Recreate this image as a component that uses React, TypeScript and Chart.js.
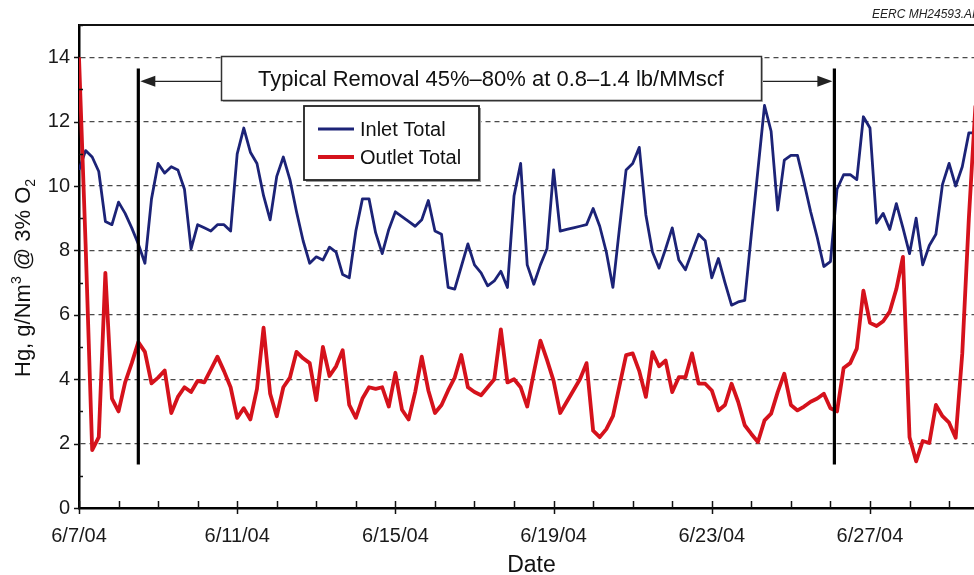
import React, { useEffect, useRef } from 'react';
import { Chart, registerables } from 'chart.js';

Chart.register(...registerables);

// ---- data ----
const slotHours = 4; // one reading every 4 hours, starting 6/7/04 00:00
const dateLabels = ['6/7/04', '6/11/04', '6/15/04', '6/19/04', '6/23/04', '6/27/04'];
const labelEveryDays = 4;
const xMaxDays = 22.63;
const yMax = 15;

const inletTotal = [
  10.5, 11.1, 10.9, 10.45, 8.9, 8.8, 9.5, 9.15, 8.7, 8.2, 7.6, 9.6, 10.7, 10.4, 10.6, 10.5, 9.9, 8.05, 8.8, 8.7, 8.6, 8.8, 8.8, 8.6,
  11.0, 11.8, 11.05, 10.7, 9.7, 8.95, 10.3, 10.9, 10.2, 9.2, 8.3, 7.6, 7.8, 7.7, 8.1, 7.95, 7.25, 7.15, 8.6, 9.6, 9.6, 8.55, 7.9, 8.65,
  9.2, 9.05, 8.9, 8.75, 8.95, 9.55, 8.6, 8.5, 6.85, 6.8, 7.5, 8.2, 7.55, 7.3, 6.9, 7.05, 7.35, 6.85, 9.7, 10.7, 7.55, 6.95, 7.55, 8.05,
  10.5, 8.6, 8.65, 8.7, 8.75, 8.8, 9.3, 8.75, 7.95, 6.85, 8.7, 10.5, 10.7, 11.2, 9.1, 7.95, 7.45, 8.05, 8.7, 7.7, 7.4, 7.95, 8.5, 8.3,
  7.15, 7.75, 7.0, 6.3, 6.4, 6.45, 8.5, 10.5, 12.5, 11.7, 9.25, 10.8, 10.95, 10.95, 10.1, 9.2, 8.4, 7.5, 7.65, 9.9, 10.35, 10.35, 10.2, 12.15,
  11.8, 8.85, 9.15, 8.65, 9.45, 8.7, 7.9, 9.0, 7.55, 8.15, 8.5, 10.05, 10.7, 10.0, 10.6, 11.65, 11.65,
];

const outletTotal = [
  14.0, 8.2, 1.8, 2.2, 7.3, 3.4, 3.0, 3.9, 4.5, 5.15, 4.85, 3.87, 4.05, 4.27, 2.95, 3.45, 3.75, 3.6, 3.95, 3.9, 4.3, 4.7, 4.25, 3.75,
  2.8, 3.1, 2.75, 3.7, 5.6, 3.55, 2.85, 3.75, 4.05, 4.85, 4.65, 4.5, 3.35, 5.0, 4.1, 4.4, 4.9, 3.2, 2.8, 3.4, 3.75, 3.7, 3.75, 3.15,
  4.2, 3.05, 2.75, 3.6, 4.7, 3.65, 2.95, 3.2, 3.65, 4.05, 4.75, 3.75, 3.6, 3.5, 3.75, 4.0, 5.55, 3.9, 4.0, 3.75, 3.15, 4.2, 5.2, 4.6,
  3.95, 2.95, 3.3, 3.65, 4.0, 4.5, 2.4, 2.2, 2.45, 2.85, 3.8, 4.75, 4.8, 4.25, 3.45, 4.84, 4.4, 4.58, 3.6, 4.06, 4.06, 4.8, 3.86, 3.86,
  3.65, 3.03, 3.2, 3.86, 3.3, 2.57, 2.3, 2.05, 2.72, 2.93, 3.6, 4.17, 3.2, 3.03, 3.15, 3.3, 3.4, 3.55, 3.1, 3.0, 4.35, 4.5, 4.95, 6.75,
  5.75, 5.65, 5.8, 6.1, 6.8, 7.8, 2.2, 1.45, 2.08, 2.02, 3.2, 2.85, 2.65, 2.18, 4.8, 9.0, 12.5,
];

const seriesNames = ['Inlet Total', 'Outlet Total'];
const removalStartDay = 1.5;
const removalEndDay = 19.1;
const markerTopValue = 13.65;
const markerBottomValue = 1.35;
const arrowValue = 13.25;
const annotationText = 'Typical Removal 45%\u201380% at 0.8\u20131.4 lb/MMscf';
const drawingId = 'EERC MH24593.AI';

const BLUE = '#1c2377';
const RED = '#d5121c';
const FONT = '"Liberation Sans", Arial, Helvetica, sans-serif';

const toPoints = (vals: number[]) => vals.map((v, i) => ({ x: (i * slotHours) / 24, y: v }));

const decorPlugin = {
  id: 'decor',
  beforeDraw(chart: any) {
    const ctx = chart.ctx;
    ctx.save();
    ctx.fillStyle = '#ffffff';
    ctx.fillRect(0, 0, chart.width, chart.height);
    ctx.restore();
  },
  afterDatasetsDraw(chart: any) {
    const ctx: CanvasRenderingContext2D = chart.ctx;
    const xs = chart.scales.x;
    const ys = chart.scales.y;
    const a = chart.chartArea;
    ctx.save();

    // top border
    ctx.strokeStyle = '#111';
    ctx.lineWidth = 2;
    ctx.beginPath();
    ctx.moveTo(a.left, a.top);
    ctx.lineTo(a.right, a.top);
    ctx.stroke();

    // x ticks
    ctx.lineWidth = 1.5;
    for (let d = 0; d <= Math.floor(xMaxDays); d++) {
      const px = Math.round(xs.getPixelForValue(d)) + 0.5;
      const major = d % labelEveryDays === 0;
      ctx.beginPath();
      ctx.moveTo(px, a.bottom - 7);
      ctx.lineTo(px, a.bottom + (major ? 6 : 0));
      ctx.stroke();
    }
    // y ticks
    for (let v = 0; v <= yMax; v++) {
      const py = Math.round(ys.getPixelForValue(v)) + 0.5;
      const major = v % 2 === 0;
      ctx.beginPath();
      ctx.moveTo(a.left - (major ? 5 : 0), py);
      ctx.lineTo(a.left + (major ? 0 : 4), py);
      ctx.stroke();
    }

    // vertical markers
    const yTop = ys.getPixelForValue(markerTopValue);
    const yBot = ys.getPixelForValue(markerBottomValue);
    ctx.strokeStyle = '#000';
    ctx.lineWidth = 3.2;
    [removalStartDay, removalEndDay].forEach((d) => {
      const px = xs.getPixelForValue(d);
      ctx.beginPath();
      ctx.moveTo(px, yTop);
      ctx.lineTo(px, yBot);
      ctx.stroke();
    });

    // annotation box
    const bx = 221, by = 56, bw = 540, bh = 44;
    const ay = ys.getPixelForValue(arrowValue);
    const xL = xs.getPixelForValue(removalStartDay) + 2;
    const xR = xs.getPixelForValue(removalEndDay) - 2;
    ctx.lineWidth = 1.4;
    ctx.strokeStyle = '#222';
    ctx.fillStyle = '#222';
    ctx.beginPath();
    ctx.moveTo(bx, ay);
    ctx.lineTo(xL + 12, ay);
    ctx.moveTo(bx + bw, ay);
    ctx.lineTo(xR - 12, ay);
    ctx.stroke();
    ctx.beginPath();
    ctx.moveTo(xL, ay);
    ctx.lineTo(xL + 15, ay - 5.5);
    ctx.lineTo(xL + 15, ay + 5.5);
    ctx.closePath();
    ctx.fill();
    ctx.beginPath();
    ctx.moveTo(xR, ay);
    ctx.lineTo(xR - 15, ay - 5.5);
    ctx.lineTo(xR - 15, ay + 5.5);
    ctx.closePath();
    ctx.fill();

    ctx.fillStyle = '#bbb';
    ctx.fillRect(bx + 2, by + 2, bw, bh);
    ctx.fillStyle = '#fff';
    ctx.fillRect(bx, by, bw, bh);
    ctx.strokeStyle = '#333';
    ctx.lineWidth = 1.5;
    ctx.strokeRect(bx + 0.5, by + 0.5, bw, bh);
    ctx.fillStyle = '#111';
    ctx.font = `22px ${FONT}`;
    ctx.textAlign = 'center';
    ctx.textBaseline = 'alphabetic';
    ctx.fillText(annotationText, bx + bw / 2, by + 30);

    // legend
    const lx = 304, ly = 106, lw = 175, lh = 74;
    ctx.fillStyle = '#999';
    ctx.fillRect(lx + 2, ly + 2, lw, lh);
    ctx.fillStyle = '#fff';
    ctx.fillRect(lx, ly, lw, lh);
    ctx.strokeStyle = '#222';
    ctx.lineWidth = 1.8;
    ctx.strokeRect(lx, ly, lw, lh);
    const items = [
      { name: seriesNames[0], color: BLUE, w: 3, y: 129 },
      { name: seriesNames[1], color: RED, w: 4, y: 157 },
    ];
    ctx.font = `20px ${FONT}`;
    ctx.textAlign = 'left';
    items.forEach((it) => {
      ctx.strokeStyle = it.color;
      ctx.lineWidth = it.w;
      ctx.beginPath();
      ctx.moveTo(318, it.y);
      ctx.lineTo(354, it.y);
      ctx.stroke();
      ctx.fillStyle = '#111';
      ctx.fillText(it.name, 360, it.y + 7);
    });

    // drawing id
    ctx.font = `italic 12px ${FONT}`;
    ctx.fillStyle = '#222';
    ctx.textAlign = 'left';
    ctx.fillText(drawingId, 872, 18);

    // x title
    ctx.font = `23px ${FONT}`;
    ctx.textAlign = 'center';
    ctx.fillStyle = '#111';
    ctx.fillText('Date', (a.left + a.right) / 2 + 5, 572);

    // y title (rotated, with super/subscripts)
    ctx.save();
    ctx.translate(30, 377);
    ctx.rotate(-Math.PI / 2);
    ctx.textAlign = 'left';
    const big = `22px ${FONT}`;
    const small = `14px ${FONT}`;
    let cx = 0;
    const seg = (t: string, f: string, dy: number) => {
      ctx.font = f;
      ctx.fillText(t, cx, dy);
      cx += ctx.measureText(t).width;
    };
    seg('Hg, g/Nm', big, 0);
    seg('3', small, -9);
    seg(' @ 3% O', big, 0);
    seg('2', small, 5);
    ctx.restore();

    ctx.restore();
  },
};

export default function App() {
  const ref = useRef<HTMLCanvasElement | null>(null);
  useEffect(() => {
    if (!ref.current) return;
    const chart = new Chart(ref.current, {
      type: 'line',
      data: {
        datasets: [
          {
            label: seriesNames[0],
            data: toPoints(inletTotal),
            borderColor: BLUE,
            borderWidth: 2.8,
            pointRadius: 0,
            tension: 0,
            borderJoinStyle: 'round',
            order: 2,
          },
          {
            label: seriesNames[1],
            data: toPoints(outletTotal),
            borderColor: RED,
            borderWidth: 3.8,
            pointRadius: 0,
            tension: 0,
            borderJoinStyle: 'round',
            order: 1,
          },
        ],
      },
      options: {
        animation: false,
        responsive: false,
        maintainAspectRatio: false,
        parsing: false as any,
        layout: { padding: { top: 25, left: 0, right: 0, bottom: 0 } },
        plugins: { legend: { display: false }, tooltip: { enabled: false }, title: { display: false } },
        scales: {
          x: {
            type: 'linear',
            min: 0,
            max: xMaxDays,
            afterBuildTicks: (s: any) => {
              const t = [];
              for (let d = 0; d <= Math.floor(xMaxDays); d++) t.push({ value: d });
              s.ticks = t;
            },
            afterFit: (s: any) => {
              s.height = 67;
            },
            ticks: {
              autoSkip: false,
              maxRotation: 0,
              padding: 16,
              color: '#1a1a1a',
              font: { family: FONT, size: 20 },
              callback: (v: any) => {
                const d = Number(v);
                if (Math.abs(d - Math.round(d)) > 1e-6) return '';
                return Math.round(d) % labelEveryDays === 0 ? dateLabels[Math.round(d) / labelEveryDays] ?? '' : '';
              },
            },
            grid: { display: false, drawTicks: false },
            border: { display: true, color: '#000', width: 2.5 },
          },
          y: {
            type: 'linear',
            min: 0,
            max: yMax,
            afterFit: (s: any) => {
              s.width = 79;
            },
            ticks: {
              stepSize: 1,
              autoSkip: false,
              padding: 9,
              color: '#1a1a1a',
              font: { family: FONT, size: 20 },
              callback: (v: any) => (Number(v) % 2 === 0 ? String(v) : ''),
            },
            grid: {
              drawTicks: false,
              color: (c: any) => {
                const v = c.tick ? c.tick.value : 0;
                return v > 0 && v < yMax && v % 2 === 0 ? '#4a4a4a' : 'rgba(0,0,0,0)';
              },
              lineWidth: 1.2,
            },
            border: { display: true, color: '#000', width: 2.5, dash: [5, 4] } as any,
          },
        },
      } as any,
      plugins: [decorPlugin],
    });
    return () => chart.destroy();
  }, []);
  return (
    <div style={{ position: 'absolute', left: 0, top: 0, width: 974, height: 575 }}>
      <canvas ref={ref} width={974} height={575} style={{ display: 'block' }} />
    </div>
  );
}
